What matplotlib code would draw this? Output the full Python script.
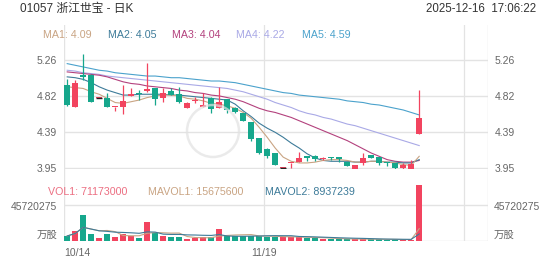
import numpy as np
import pandas as pd
import matplotlib
matplotlib.use("Agg")
from matplotlib import pyplot as plt
from matplotlib.patches import Ellipse

plt.rcParams['font.family'] = ['Liberation Sans', 'Noto Sans CJK SC', 'DejaVu Sans']

# daily candles, 10/14 .. 12/16
opens = [4.952, 4.690, 5.073, 5.073, 4.791, 4.791, 4.690, 4.690, 4.819, 4.851,
         4.883, 4.912, 4.791, 4.883, 4.843, 4.677, 4.755, 4.690, 4.791, 4.670,
         4.779, 4.670, 4.617, 4.508, 4.308, 4.175, 4.127, 3.945, 4.013, 4.025,
         4.094, 4.094, 4.054, 4.066, 4.085, 4.025, 3.933, 4.013, 4.106, 4.078,
         4.006, 4.013, 3.945, 3.933, 4.356]
closes = [4.710, 4.972, 5.045, 4.750, 4.791, 4.690, 4.690, 4.762, 4.839, 4.849,
          4.900, 4.779, 4.851, 4.831, 4.750, 4.731, 4.762, 4.710, 4.658, 4.743,
          4.650, 4.629, 4.520, 4.296, 4.127, 4.094, 3.985, 3.945, 4.013, 4.066,
          4.066, 4.054, 4.066, 4.064, 4.054, 3.973, 3.985, 4.066, 4.073, 4.013,
          4.004, 3.945, 3.985, 3.997, 4.549]
highs = [5.021, 5.012, 5.326, 5.081, 4.791, 4.859, 4.690, 4.952, 4.912, 4.891,
         5.221, 4.919, 4.912, 4.912, 4.924, 4.750, 4.803, 4.851, 4.803, 4.924,
         4.780, 4.690, 4.617, 4.508, 4.308, 4.190, 4.127, 3.945, 4.013, 4.146,
         4.094, 4.106, 4.078, 4.078, 4.085, 4.025, 3.985, 4.134, 4.106, 4.078,
         4.025, 4.013, 4.006, 4.046, 4.891]
lows = [4.698, 4.690, 5.012, 4.750, 4.791, 4.690, 4.641, 4.601, 4.819, 4.771,
        4.871, 4.710, 4.750, 4.825, 4.731, 4.670, 4.731, 4.690, 4.610, 4.670,
        4.617, 4.610, 4.517, 4.279, 4.118, 4.066, 3.985, 3.945, 3.945, 4.025,
        4.037, 4.037, 4.045, 4.045, 4.025, 3.973, 3.933, 3.985, 4.073, 3.985,
        3.973, 3.925, 3.925, 3.933, 4.356]
volumes = [6.4, 12.7, 33.0, 8.5, 4.2, 8.5, 5.1, 8.5, 6.8, 4.2,
           24.6, 9.7, 6.8, 4.7, 4.7, 2.5, 3.4, 5.1, 5.1, 15.2,
           6.4, 6.4, 6.4, 6.4, 6.4, 5.5, 5.0, 4.5, 5.0, 5.5,
           4.0, 3.5, 3.0, 2.5, 2.5, 2.5, 2.2, 2.5, 2.0, 2.0,
           1.8, 2.0, 1.6, 1.8, 71.173]  # million shares

ma1 = [4.93, 4.92, 4.91, 4.87, 4.84, 4.79, 4.74, 4.73, 4.75, 4.77, 4.80, 4.82, 4.83, 4.83, 4.82,
       4.79, 4.78, 4.76, 4.73, 4.72, 4.70, 4.67, 4.62, 4.55, 4.44, 4.32, 4.19, 4.08, 4.03, 4.01,
       4.01, 4.02, 4.04, 4.05, 4.05, 4.04, 4.02, 4.02, 4.03, 4.03, 4.02, 4.01, 3.99, 3.98, 4.09]
ma2 = [5.05, 5.04, 5.02, 4.98, 4.93, 4.89, 4.86, 4.83, 4.83, 4.84, 4.84, 4.84, 4.84, 4.83, 4.83,
       4.82, 4.81, 4.80, 4.79, 4.78, 4.77, 4.72, 4.64, 4.57, 4.49, 4.43, 4.38, 4.32, 4.25, 4.19,
       4.12, 4.07, 4.04, 4.03, 4.03, 4.03, 4.02, 4.02, 4.03, 4.03, 4.02, 4.02, 4.01, 4.01, 4.05]
ma3 = [5.11, 5.10, 5.09, 5.08, 5.07, 5.05, 5.02, 4.99, 4.97, 4.96, 4.94, 4.93, 4.92, 4.91, 4.89,
       4.88, 4.86, 4.85, 4.83, 4.82, 4.80, 4.78, 4.75, 4.71, 4.67, 4.64, 4.62, 4.59, 4.56, 4.52,
       4.48, 4.44, 4.40, 4.36, 4.32, 4.28, 4.23, 4.18, 4.13, 4.09, 4.05, 4.03, 4.02, 4.02, 4.04]
ma4 = [5.13, 5.12, 5.10, 5.09, 5.08, 5.06, 5.05, 5.04, 5.03, 5.02, 5.01, 5.00, 4.99, 4.98, 4.97,
       4.96, 4.95, 4.94, 4.93, 4.92, 4.91, 4.89, 4.87, 4.84, 4.81, 4.78, 4.74, 4.71, 4.68, 4.64,
       4.61, 4.59, 4.56, 4.54, 4.51, 4.48, 4.46, 4.43, 4.40, 4.37, 4.34, 4.31, 4.28, 4.25, 4.22]
ma5 = [5.21, 5.19, 5.17, 5.15, 5.13, 5.12, 5.10, 5.09, 5.08, 5.07, 5.06, 5.06, 5.05, 5.04, 5.04,
       5.03, 5.02, 5.01, 5.00, 5.00, 4.99, 4.98, 4.96, 4.94, 4.92, 4.90, 4.88, 4.86, 4.85, 4.83,
       4.82, 4.81, 4.80, 4.79, 4.78, 4.76, 4.75, 4.74, 4.72, 4.71, 4.69, 4.67, 4.65, 4.62, 4.59]

price_ticks = [3.9525, 4.3875, 4.8225, 5.2575]
vol_tick = 45720275
mavol_last = [15675600, 8937239]
xtick_idx = [0, 25]
xtick_labels = ['10/14', '11/19']

UP = '#f2445f'
DOWN = '#16a78c'
GRID = '#e3e3e3'
TXT = '#666666'
ma_colors = ['#c9a483', '#3d7b99', '#b3417d', '#a9a9e6', '#4ba2cc']

W, H = 552, 265
fig = plt.figure(figsize=(W / 100, H / 100), dpi=100)


def fx(px):
    return px / W


def fy(py):
    return 1 - py / H


ax = fig.add_axes([fx(64), fy(169), fx(488) - fx(64), fy(25) - fy(169)])
axv = fig.add_axes([fx(64), fy(241), fx(488) - fx(64), fy(169) - fy(241)])

n = len(opens)
x = np.arange(n)
o = np.array(opens); c = np.array(closes)
hi = np.array(highs); lo = np.array(lows)
up = c >= o
col = np.where(up, UP, DOWN)

for a in (ax, axv):
    a.set_xlim(-0.4, 52.6)
    for s in a.spines.values():
        s.set_visible(False)
    a.set_xticks([])
    for gx in (24.6, 49.6):
        a.axvline(gx, color=GRID, lw=0.9, zorder=0)
    a.axvline(-0.4, color=GRID, lw=1.0, zorder=0)
    a.axvline(52.6, color=GRID, lw=1.0, zorder=0)

# price panel
ax.set_ylim(3.9368, 5.6768)
for t in price_ticks:
    ax.axhline(t, color=GRID, lw=1.0, zorder=0)
ax.set_yticks(price_ticks)
ax.set_yticklabels(['%.2f' % t for t in price_ticks])
ax.tick_params(axis='y', length=0, pad=5, labelsize=7.5, labelcolor=TXT,
               labelleft=True, labelright=True)

ax.vlines(x, lo, hi, colors=col, lw=0.9, zorder=3, clip_on=False)
body_h = np.maximum(np.abs(c - o), 0.012)
ax.bar(x, body_h, bottom=np.minimum(o, c), width=0.72, color=col,
       zorder=4, clip_on=False)
flat = (o == c) & (hi == lo)
ax.hlines(o[flat], x[flat] - 0.36, x[flat] + 0.36, colors='#222222', lw=1.0, zorder=5)

for vals, cl in zip([ma5, ma4, ma3, ma2, ma1], ma_colors[::-1]):
    ax.plot(x, vals, color=cl, lw=0.8, zorder=2)

# faint logo watermark
fig.patches.append(Ellipse((fx(213), fy(131)), 52 / W, 52 / H, transform=fig.transFigure,
                           fill=False, ec='#e2e2e2', lw=1.8, alpha=0.7))

# volume panel
vol = np.array(volumes) * 1e6
axv.set_ylim(0, 2 * vol_tick)
axv.axhline(vol_tick, color=GRID, lw=1.0, zorder=0)
axv.axhline(0, color=GRID, lw=1.0, zorder=0)
axv.set_yticks([])
axv.bar(x, vol, width=0.72, color=np.where(up, UP, DOWN), zorder=3)
s = pd.Series(vol)
axv.plot(x, s.rolling(5, min_periods=1).mean(), color=ma_colors[0], lw=0.8, zorder=4)
axv.plot(x, s.rolling(10, min_periods=1).mean(), color=ma_colors[1], lw=0.8, zorder=4)

# texts
fig.text(fx(20), fy(9), '01057 浙江世宝 - 日K', fontsize=8.5, color='#333333', va='center')
fig.text(fx(536), fy(9), '2025-12-16  17:06:22', fontsize=8.3, color='#333333',
         va='center', ha='right')

ma_vals = [ma1[-1], ma2[-1], ma3[-1], ma4[-1], ma5[-1]]
ma_x = [43, 108, 172, 236, 302]
for i, (v, cl, px) in enumerate(zip(ma_vals, ma_colors, ma_x)):
    fig.text(fx(px), fy(34.5), 'MA%d: %.2f' % (i + 1, v), fontsize=7.7, color=cl, va='center')

vol_legend = [('VOL1: %d' % round(vol[-1]), '#ec6f82', 48),
              ('MAVOL1: %d' % mavol_last[0], ma_colors[0], 148),
              ('MAVOL2: %d' % mavol_last[1], ma_colors[1], 265)]
for t, cl, px in vol_legend:
    fig.text(fx(px), fy(192), t, fontsize=7.7, color=cl, va='center')

for px, ha in ((57, 'right'), (494, 'left')):
    fig.text(fx(px), fy(207.5), str(vol_tick), fontsize=7.5, color=TXT, va='center', ha=ha)
    fig.text(fx(px), fy(235), '万股', fontsize=7.5, color=TXT, va='center', ha=ha)

for i, lab in zip(xtick_idx, xtick_labels):
    if i == 0:
        axv.text(-0.4, -0.16, lab, transform=axv.get_xaxis_transform(), fontsize=7.5,
                 color=TXT, ha='left', va='center')
    else:
        axv.text(i - 0.4, -0.16, lab, transform=axv.get_xaxis_transform(), fontsize=7.5,
                 color=TXT, ha='center', va='center')

fig.savefig('out.png', dpi=100)
